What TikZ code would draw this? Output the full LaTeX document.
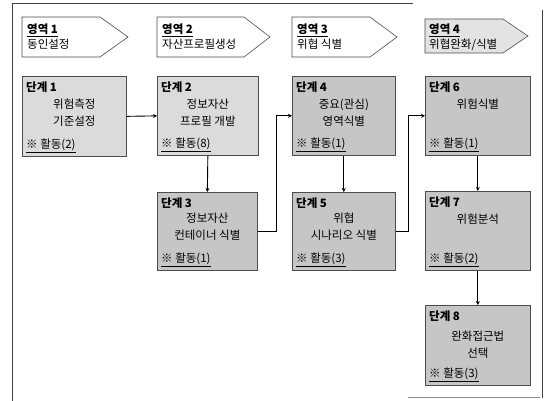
\documentclass[tikz,border=0pt]{standalone}
\usepackage{fontspec}
\setmainfont{Noto Sans CJK KR}
\usetikzlibrary{arrows.meta}
\tikzset{
  frameline/.style={draw=black!75, line width=0.9pt},
  regionbox/.style={draw=black!70, line width=0.6pt},
  stepbox/.style={draw=black!70, line width=0.7pt, rectangle, anchor=north west, inner sep=0pt},
  steplight/.style={stepbox, fill=gray!28},
  stepdark/.style={stepbox, fill=gray!45},
  titletxt/.style={anchor=north west, inner sep=0pt, font=\fontsize{11.5}{13}\selectfont\bfseries},
  regiontxt/.style={anchor=north west, inner sep=0pt, align=left, font=\fontsize{11.5}{15}\selectfont},
  midtxt/.style={anchor=north, inner sep=0pt, align=center, font=\fontsize{11.5}{16.5}\selectfont},
  acttxt/.style={anchor=south west, inner sep=0pt, font=\fontsize{11.5}{13}\selectfont},
  conn/.style={draw=black, line width=0.9pt, -{Stealth[length=4pt,width=4pt]}}
}
\begin{document}
\begin{tikzpicture}[x=1pt,y=-1pt]
\useasboundingbox (0,0) rectangle (547,401);
% outer frame
\draw[frameline] (12,3) -- (413,3);
\draw[frameline] (12,3) -- (12,401);
\draw[frameline] (542,10) -- (542,398);
\draw[draw=black!45, line width=0.9pt] (408,397) -- (540,397);
% region headers
\draw[regionbox, fill=white] (22,17) -- (100,17) -- (128,37) -- (100,57) -- (22,57) -- cycle;
\draw[regionbox, fill=white] (157,17) -- (244,17) -- (270,37) -- (244,57) -- (157,57) -- cycle;
\draw[regionbox, fill=white] (292,17) -- (370,17) -- (397,37) -- (370,57) -- (292,57) -- cycle;
\draw[regionbox, fill=gray!22] (425,19) -- (503,19) -- (528,36) -- (503,53) -- (425,53) -- cycle;
\node[regiontxt] (r1) at (27,24) {\textbf{\underline{영역 1}}\\동인설정};
\node[regiontxt] (r2) at (162,24) {\textbf{\underline{영역 2}}\\자산프로필생성};
\node[regiontxt] (r3) at (297,24) {\textbf{\underline{영역 3}}\\위협 식별};
\node[regiontxt] (r4) at (429,24) {\textbf{\underline{영역 4}}\\위협완화/식별};
% steps
\node[steplight, minimum width=104pt, minimum height=80pt] (s1) at (22,76) {};
\node[steplight, minimum width=101pt, minimum height=79pt] (s2) at (157,76) {};
\node[stepdark, minimum width=100pt, minimum height=78pt] (s3) at (157,192) {};
\node[stepdark, minimum width=103pt, minimum height=79pt] (s4) at (292,76) {};
\node[stepdark, minimum width=103pt, minimum height=78pt] (s5) at (292,192) {};
\node[stepdark, minimum width=105pt, minimum height=79pt] (s6) at (425,76) {};
\node[stepdark, minimum width=105pt, minimum height=79pt] (s7) at (425,191) {};
\node[stepdark, minimum width=105pt, minimum height=80pt] (s8) at (425,305) {};
% step texts
\node[titletxt] (t1) at ([xshift=4pt,yshift=-6pt]s1.north west) {단계 1};
\node[titletxt] (t2) at ([xshift=4pt,yshift=-6pt]s2.north west) {단계 2};
\node[titletxt] (t3) at ([xshift=4pt,yshift=-6pt]s3.north west) {단계 3};
\node[titletxt] (t4) at ([xshift=4pt,yshift=-6pt]s4.north west) {단계 4};
\node[titletxt] (t5) at ([xshift=4pt,yshift=-6pt]s5.north west) {단계 5};
\node[titletxt] (t6) at ([xshift=4pt,yshift=-6pt]s6.north west) {단계 6};
\node[titletxt] (t7) at ([xshift=4pt,yshift=-6pt]s7.north west) {단계 7};
\node[titletxt] (t8) at ([xshift=4pt,yshift=-6pt]s8.north west) {단계 8};
\node[midtxt] (m1) at ([yshift=-23pt]s1.north) {위험측정\\기준설정};
\node[midtxt] (m2) at ([yshift=-23pt]s2.north) {정보자산\\프로필 개발};
\node[midtxt] (m3) at ([yshift=-21pt]s3.north) {정보자산\\컨테이너 식별};
\node[midtxt] (m4) at ([yshift=-23pt]s4.north) {중요(관심)\\영역식별};
\node[midtxt] (m5) at ([yshift=-21pt]s5.north) {위협\\시나리오 식별};
\node[midtxt] (m6) at ([yshift=-23pt]s6.north) {위험식별};
\node[midtxt] (m7) at ([yshift=-23pt]s7.north) {위험분석};
\node[midtxt] (m8) at ([yshift=-26pt]s8.north) {완화접근법\\선택};
\node[acttxt] (a1) at ([xshift=4pt,yshift=4pt]s1.south west) {\underline{※ 활동(2)}};
\node[acttxt] (a2) at ([xshift=4pt,yshift=4pt]s2.south west) {\underline{※ 활동(8)}};
\node[acttxt] (a3) at ([xshift=4pt,yshift=4pt]s3.south west) {\underline{※ 활동(1)}};
\node[acttxt] (a4) at ([xshift=4pt,yshift=4pt]s4.south west) {\underline{※ 활동(1)}};
\node[acttxt] (a5) at ([xshift=4pt,yshift=4pt]s5.south west) {\underline{※ 활동(3)}};
\node[acttxt] (a6) at ([xshift=4pt,yshift=4pt]s6.south west) {\underline{※ 활동(1)}};
\node[acttxt] (a7) at ([xshift=4pt,yshift=4pt]s7.south west) {\underline{※ 활동(2)}};
\node[acttxt] (a8) at ([xshift=4pt,yshift=4pt]s8.south west) {\underline{※ 활동(3)}};
% connectors
\draw[conn] (s1.east) -- (s2.west);
\draw[conn] (s2.south) -- (s3.north);
\draw[conn] (s3.east) -- ++(19,0) |- (s4.west);
\draw[conn] (s4.south) -- (s5.north);
\draw[conn] (s5.east) -- ++(13,0) |- (s6.west);
\draw[conn] (s6.south) -- (s7.north);
\draw[conn] (s7.south) -- (s8.north);
\end{tikzpicture}
\end{document}
